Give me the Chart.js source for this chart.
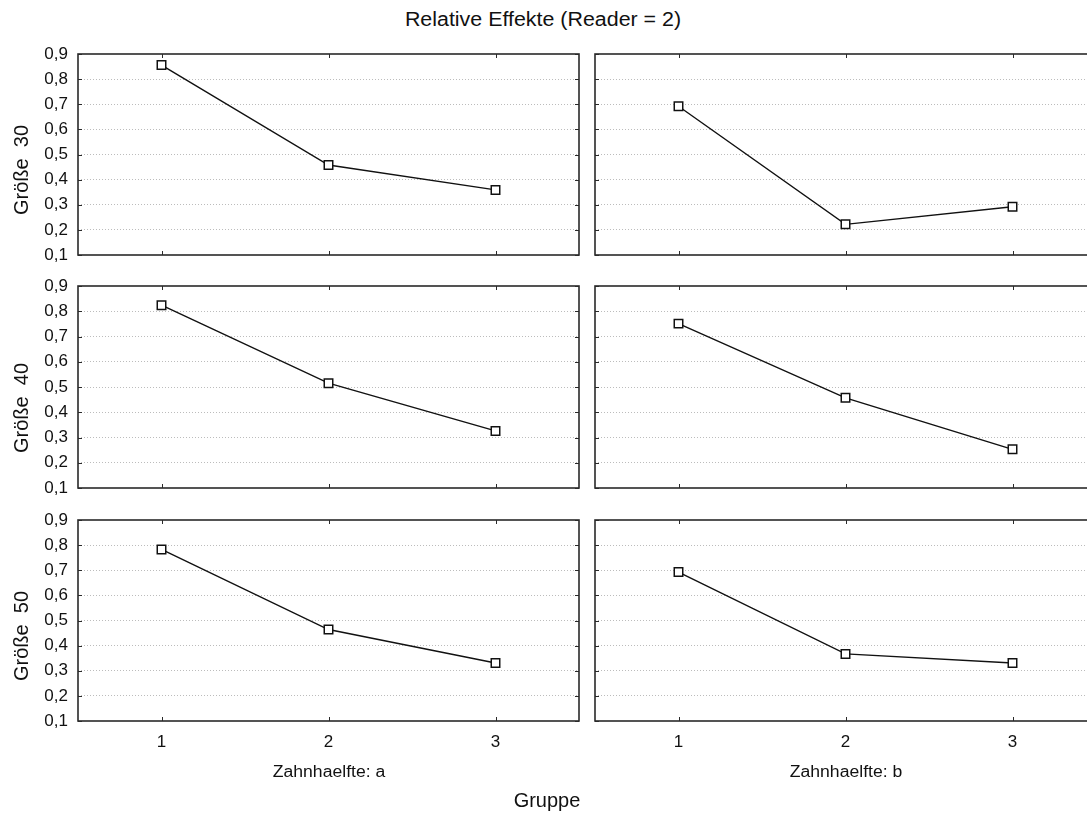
<!DOCTYPE html>
<html><head><meta charset="utf-8">
<script src="https://cdn.jsdelivr.net/npm/chart.js@4.4.1/dist/chart.umd.min.js"></script>
<style>
html,body{margin:0;padding:0;background:#fff;overflow:hidden;width:1087px;height:814px;}
#wrap{position:relative;width:1087px;height:814px;overflow:hidden;font-family:"Liberation Sans",Arial,sans-serif;color:#111;}
canvas{position:absolute;}
.lbl{position:absolute;white-space:pre;line-height:1;}
</style></head><body><div id="wrap">
<canvas id="c00"></canvas><canvas id="c01"></canvas>
<canvas id="c10"></canvas><canvas id="c11"></canvas>
<canvas id="c20"></canvas><canvas id="c21"></canvas>
</div>
<script>
// ---- data ----
const chartTitle = 'Relative Effekte (Reader = 2)';
const groups = ['1', '2', '3'];
const sizeLabels = ['Größe  30', 'Größe  40', 'Größe  50'];
const halfLabels = ['Zahnhaelfte: a', 'Zahnhaelfte: b'];
const xAxisTitle = 'Gruppe';
const yTickLabels = ['0,1', '0,2', '0,3', '0,4', '0,5', '0,6', '0,7', '0,8', '0,9'];
const size30_a = [0.856, 0.458, 0.359];
const size30_b = [0.692, 0.222, 0.292];
const size40_a = [0.824, 0.515, 0.326];
const size40_b = [0.751, 0.457, 0.253];
const size50_a = [0.783, 0.464, 0.331];
const size50_b = [0.693, 0.367, 0.331];

const panelData = [[size30_a, size30_b], [size40_a, size40_b], [size50_a, size50_b]];

// ---- layout ----
const rowTops = [54, 286, 520];
const rowBottoms = [255, 488, 721];
const colLeft = [78, 595];
const colRight = [579, 1096];
const FONT = '"Liberation Sans", Arial, sans-serif';

const wrap = document.getElementById('wrap');
function addLabel(text, x, y, size, rot, sx) {
  const d = document.createElement('div');
  d.className = 'lbl';
  d.textContent = text;
  d.style.left = x + 'px';
  d.style.top = y + 'px';
  d.style.fontSize = size + 'px';
  d.style.transform = 'translate(-50%,-50%)' + (rot ? ' rotate(-90deg)' : '') + (sx ? ' scaleX(' + sx + ')' : '');
  wrap.appendChild(d);
}

const framePlugin = {
  id: 'frame',
  afterDraw(chart) {
    const {ctx, chartArea: a, scales} = chart;
    ctx.save();
    ctx.strokeStyle = '#2a2a2a';
    ctx.lineWidth = 1.6;
    ctx.strokeRect(a.left, a.top, a.right - a.left, a.bottom - a.top);
    ctx.lineWidth = 1;
    ctx.beginPath();
    groups.forEach((g, i) => {
      const px = Math.round(scales.x.getPixelForValue(i)) + 0.5;
      ctx.moveTo(px, a.top); ctx.lineTo(px, a.top + 4);
      ctx.moveTo(px, a.bottom); ctx.lineTo(px, a.bottom - 4);
    });
    scales.y.ticks.forEach(t => {
      const py = Math.round(scales.y.getPixelForValue(t.value)) + 0.5;
      ctx.moveTo(a.left, py); ctx.lineTo(a.left + 4, py);
      ctx.moveTo(a.right, py); ctx.lineTo(a.right - 4, py);
    });
    ctx.stroke();
    ctx.restore();
  }
};

function makePanel(r, c) {
  const cv = document.getElementById('c' + r + c);
  const isBottom = r === 2;
  const showY = c === 0;
  const canvasLeft = c === 0 ? 0 : colLeft[1] - 4;
  const canvasRight = colRight[c] + 4;
  const canvasTop = rowTops[r] - 10;
  const canvasBottom = isBottom ? 790 : rowBottoms[r] + 10;
  const W = canvasRight - canvasLeft, H = canvasBottom - canvasTop;
  cv.width = W; cv.height = H;
  cv.style.left = canvasLeft + 'px';
  cv.style.top = canvasTop + 'px';
  cv.style.width = W + 'px'; cv.style.height = H + 'px';
  const yAxisW = showY ? colLeft[0] : 0;
  const xAxisH = isBottom ? canvasBottom - rowBottoms[r] : 0;
  new Chart(cv, {
    type: 'line',
    data: {
      labels: groups,
      datasets: [{
        data: panelData[r][c],
        borderColor: '#111',
        borderWidth: 1.4,
        tension: 0,
        fill: false,
        pointStyle: 'rect',
        pointRadius: 6,
        pointBorderWidth: 1.5,
        pointBackgroundColor: '#fff',
        pointBorderColor: '#111'
      }]
    },
    options: {
      responsive: false,
      animation: false,
      events: [],
      layout: {autoPadding: false, padding: {top: 10, bottom: isBottom ? 0 : 10, left: c === 0 ? 0 : 4, right: 4}},
      plugins: {legend: {display: false}, tooltip: {enabled: false}, title: {display: false}},
      scales: {
        x: {
          type: 'category',
          offset: true,
          display: isBottom,
          grid: {display: false, drawTicks: false},
          border: {display: false},
          ticks: {padding: 11, color: '#111', font: {family: FONT, size: 17}, maxRotation: 0},
          afterFit: s => { s.height = xAxisH; s.paddingLeft = 0; s.paddingRight = 0; }
        },
        y: {
          min: 0.1, max: 0.9,
          display: true,
          grid: {
            drawTicks: false,
            lineWidth: 1,
            color: ctx => (ctx.tick && (Math.abs(ctx.tick.value - 0.1) < 1e-6 || Math.abs(ctx.tick.value - 0.9) < 1e-6)) ? 'rgba(0,0,0,0)' : '#bcbcbc'
          },
          border: {display: false, dash: [1, 2]},
          ticks: {
            display: showY,
            stepSize: 0.1,
            padding: 10,
            color: '#111',
            font: {family: FONT, size: 17},
            callback: (v, i) => yTickLabels[i]
          },
          afterFit: s => { s.width = yAxisW; s.paddingTop = 0; s.paddingBottom = 0; }
        }
      }
    },
    plugins: [framePlugin]
  });
}

for (let r = 0; r < 3; r++) for (let c = 0; c < 2; c++) makePanel(r, c);

addLabel(chartTitle, 543, 19, 20, false, 1.07);
addLabel(sizeLabels[0], 21, 170, 20, true);
addLabel(sizeLabels[1], 21, 408, 20, true);
addLabel(sizeLabels[2], 21, 636, 20, true);
addLabel(halfLabels[0], (colLeft[0] + colRight[0]) / 2, 772, 16, false, 1.1);
addLabel(halfLabels[1], (colLeft[1] + colRight[1]) / 2, 772, 16, false, 1.1);
addLabel(xAxisTitle, 547, 800, 20);
</script>
</body></html>
